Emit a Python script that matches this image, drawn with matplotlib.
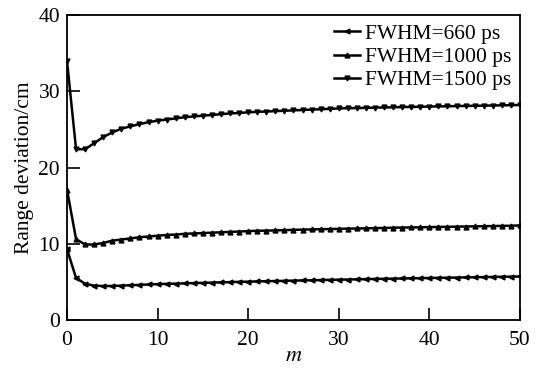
import numpy as np
import matplotlib.pyplot as plt

plt.rcParams['font.family'] = ['Liberation Serif', 'DejaVu Serif']
plt.rcParams['mathtext.fontset'] = 'stix'

m = list(range(51))

fwhm_660 = [9.3, 5.5, 4.75, 4.5, 4.45, 4.45, 4.5, 4.55, 4.6, 4.65,
            4.7, 4.73, 4.76, 4.8, 4.83, 4.86, 4.9, 4.93, 4.96, 5.0,
            5.02, 5.05, 5.08, 5.1, 5.13, 5.16, 5.18, 5.2, 5.23, 5.26,
            5.28, 5.3, 5.33, 5.35, 5.38, 5.4, 5.42, 5.44, 5.46, 5.48,
            5.5, 5.52, 5.54, 5.56, 5.58, 5.6, 5.62, 5.64, 5.66, 5.68, 5.7]

fwhm_1000 = [17.1, 10.6, 9.9, 9.9, 10.1, 10.4, 10.55, 10.7, 10.85, 10.95,
             11.05, 11.15, 11.2, 11.3, 11.35, 11.4, 11.45, 11.5, 11.55, 11.6,
             11.65, 11.7, 11.72, 11.75, 11.78, 11.82, 11.85, 11.88, 11.9, 11.93,
             11.95, 11.98, 12.0, 12.02, 12.05, 12.07, 12.1, 12.12, 12.14, 12.16,
             12.18, 12.2, 12.22, 12.24, 12.26, 12.28, 12.3, 12.32, 12.34, 12.36, 12.4]

fwhm_1500 = [34.0, 22.4, 22.4, 23.2, 24.0, 24.6, 25.1, 25.4, 25.7, 25.95,
             26.15, 26.3, 26.45, 26.6, 26.7, 26.8, 26.9, 27.0, 27.1, 27.15,
             27.25, 27.3, 27.35, 27.4, 27.45, 27.5, 27.55, 27.6, 27.65, 27.7,
             27.75, 27.78, 27.8, 27.83, 27.86, 27.88, 27.9, 27.93, 27.95, 27.97,
             28.0, 28.02, 28.04, 28.06, 28.08, 28.1, 28.12, 28.14, 28.16, 28.18, 28.2]

labels = ['FWHM=660 ps', 'FWHM=1000 ps', 'FWHM=1500 ps']

fig = plt.figure(figsize=(5.36, 3.69), dpi=100)
ax = fig.add_axes([0.125, 0.133, 0.845, 0.826])

ax.plot(m, fwhm_660, color='black', lw=1.8, marker='<', ms=3.5, label=labels[0])
ax.plot(m, fwhm_1000, color='black', lw=1.8, marker='^', ms=3.5, label=labels[1])
ax.plot(m, fwhm_1500, color='black', lw=1.8, marker='v', ms=3.5, label=labels[2])

ax.set_xlim(0, 50)
ax.set_ylim(0, 40)
ax.set_xticks([0, 10, 20, 30, 40, 50])
ax.set_yticks([0, 10, 20, 30, 40])
ax.tick_params(direction='in', length=9, width=1.2, labelsize=15.5, pad=5)
ax.tick_params(axis='x', pad=8)
for s in ax.spines.values():
    s.set_linewidth(1.3)

ax.set_xlabel('$m$', fontsize=16, labelpad=-2)
ax.set_ylabel('Range deviation/cm', fontsize=15.5, labelpad=3)

ax.legend(loc='upper right', frameon=False, fontsize=15.5, handlelength=1.2,
          handletextpad=0.25, labelspacing=0.15, borderaxespad=0.2,
          borderpad=0.2)

fig.savefig('out.png', dpi=100)
